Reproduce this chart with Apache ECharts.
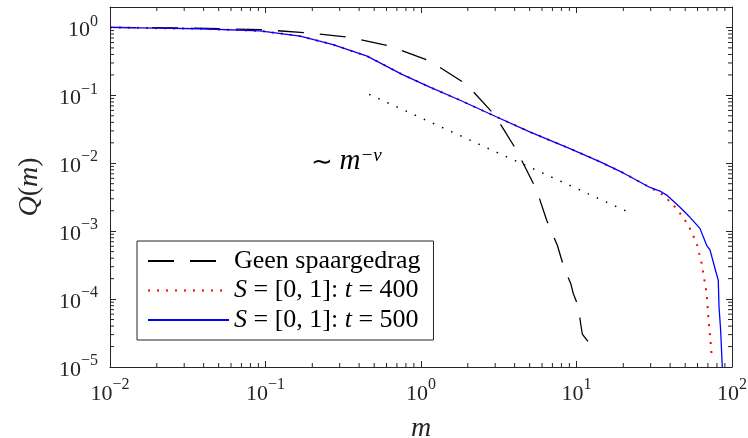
<!DOCTYPE html>
<html>
<head>
<meta charset="utf-8">
<script src="https://cdn.jsdelivr.net/npm/echarts@6/dist/echarts.min.js"></script>
<style>
html,body{margin:0;padding:0;background:#fff;}
#c{width:748px;height:438px;}
</style>
</head>
<body>
<div id="c"></div>
<script>
// ---- data ----
const mGeen = [0.01, 0.03, 0.097, 0.184, 0.349, 0.632, 1.14, 1.97, 2.99, 4.12, 5.55, 6.43, 7.53, 8.31, 9.18, 9.53, 10.3, 10.64, 10.9, 12.4];
const qGeen = [1.0, 0.985, 0.925, 0.836, 0.713, 0.531, 0.32, 0.144, 0.0508, 0.0155, 0.004, 0.00145, 0.00062, 0.00029, 0.00017, 0.000121, 0.000077, 0.000043, 0.0000306, 0.0000206];

const m400 = [0.01, 0.02, 0.038, 0.092, 0.167, 0.272, 0.45, 0.755, 1.14, 1.8, 3.07, 5.0, 9.08, 14.2, 20, 29.7, 36.2, 44.1, 52.4, 59.3, 63.8, 68.7, 70.4, 73.3, 74.3];
const q400 = [1.0, 0.975, 0.957, 0.89, 0.745, 0.557, 0.378, 0.204, 0.132, 0.084, 0.048, 0.029, 0.0164, 0.0105, 0.0072, 0.0044, 0.0034, 0.00215, 0.00123, 0.00066, 0.000335, 0.000121, 0.000055, 0.00002, 0.0000127];

const m500 = [0.01, 0.02, 0.038, 0.092, 0.167, 0.272, 0.45, 0.755, 1.14, 1.8, 3.07, 5.0, 9.08, 14.2, 20, 29.7, 34.4, 38.0, 46.3, 53.7, 62.2, 68.7, 72.2, 77.8, 81.6, 82.5, 84.5, 86.6];
const q500 = [1.0, 0.975, 0.957, 0.89, 0.745, 0.557, 0.378, 0.204, 0.132, 0.084, 0.048, 0.029, 0.0164, 0.0105, 0.0072, 0.0044, 0.0039, 0.0034, 0.00225, 0.0016, 0.0011, 0.00062, 0.00053, 0.00028, 0.00019, 0.000077, 0.000035, 0.00001];

const mRef = [0.464, 23.1];
const qRef = [0.1035, 0.00178];

const seriesNames = ['Geen spaargedrag', 'S = [0, 1]: t = 400', 'S = [0, 1]: t = 500'];
const legendLabels = {
  'Geen spaargedrag': 'Geen spaargedrag',
  'S = [0, 1]: t = 400': '{i|S} = [0, 1]: {i|t} = 400',
  'S = [0, 1]: t = 500': '{i|S} = [0, 1]: {i|t} = 500'
};
const xRange = [0.01, 100];
const yRange = [1e-5, 2];

// ---- helpers ----
const zip = (a, b) => a.map((v, i) => [v, b[i]]);
const FONT = 'Liberation Serif';
const TXT = '#262626';
function powLabel(v) {
  const l = Math.log10(v), n = Math.round(l);
  if (Math.abs(l - n) > 1e-6) return '';
  return '{b|10}{s|' + (n < 0 ? '\u2212' + (-n) : n) + '}';
}
const labelRich = {
  b: {fontFamily: FONT, fontSize: 22, color: TXT, lineHeight: 28, verticalAlign: 'bottom'},
  s: {fontFamily: FONT, fontSize: 16, color: TXT, lineHeight: 28, verticalAlign: 'top'}
};
function minorTicks(lo, hi) {
  const out = [];
  for (let e = Math.floor(Math.log10(lo)); e <= Math.ceil(Math.log10(hi)); e++) {
    for (let k = 2; k <= 9; k++) {
      const v = k * Math.pow(10, e);
      if (v > lo && v < hi) out.push(v);
    }
  }
  return out;
}
const xMinor = minorTicks(xRange[0], xRange[1]);
const yMinor = minorTicks(yRange[0], yRange[1]);

const axisCommon = {
  type: 'log', logBase: 10,
  axisLine: {show: true, onZero: false, lineStyle: {color: TXT, width: 1}},
  axisTick: {show: true, inside: true, length: 6, lineStyle: {color: TXT, width: 1}},
  splitLine: {show: false},
  minorTick: {show: false}
};

const chart = echarts.init(document.getElementById('c'), null, {renderer: 'canvas'});
chart.setOption({
  animation: false,
  backgroundColor: '#fff',
  grid: {left: 110, right: 16, top: 7, bottom: 71, containLabel: false, outerBoundsMode: 'none'},
  xAxis: [
    Object.assign({}, axisCommon, {
      position: 'bottom', min: xRange[0], max: xRange[1],
      name: '{i|m}', nameLocation: 'middle', nameGap: 48,
      nameTextStyle: {rich: {i: {fontFamily: FONT, fontStyle: 'italic', fontSize: 28, color: TXT}}},
      axisLabel: {margin: 10, formatter: powLabel, rich: labelRich}
    }),
    Object.assign({}, axisCommon, {
      position: 'top', min: xRange[0], max: xRange[1], axisLabel: {show: false}
    })
  ],
  yAxis: [
    Object.assign({}, axisCommon, {
      position: 'left', min: yRange[0], max: yRange[1],
      name: '{i|Q}({i|m})', nameLocation: 'middle', nameGap: 66, nameRotate: 90,
      nameTextStyle: {fontFamily: FONT, fontSize: 28, color: TXT,
        rich: {i: {fontFamily: FONT, fontStyle: 'italic', fontSize: 28, color: TXT}}},
      axisLabel: {margin: 12, formatter: powLabel, rich: labelRich, showMaxLabel: false}
    }),
    Object.assign({}, axisCommon, {
      position: 'right', min: yRange[0], max: yRange[1], axisLabel: {show: false}
    })
  ],
  legend: {
    data: seriesNames,
    orient: 'vertical', left: 137, top: 241,
    backgroundColor: '#fff', borderColor: TXT, borderWidth: 1,
    padding: [7, 13, 7, 10],
    itemWidth: 81, itemHeight: 14, itemGap: 3.5,
    itemStyle: {color: 'rgba(0,0,0,0)', borderWidth: 0, opacity: 0},
    formatter: n => legendLabels[n],
    textStyle: {fontFamily: FONT, fontSize: 26, color: '#000', lineHeight: 26,
      rich: {i: {fontFamily: FONT, fontStyle: 'italic', fontSize: 26, color: '#000', lineHeight: 26}}}
  },
  graphic: [{
    type: 'text', left: 311, top: 146, silent: true,
    style: {
      text: '{t|\u223C }{m|m}{s|\u2212\u03BD}',
      rich: {
        t: {fontFamily: FONT, fontSize: 26, fill: '#000', lineHeight: 30, verticalAlign: 'bottom'},
        m: {fontFamily: FONT, fontStyle: 'italic', fontSize: 29, fill: '#000', lineHeight: 30, verticalAlign: 'bottom'},
        s: {fontFamily: FONT, fontStyle: 'italic', fontSize: 19, fill: '#000', lineHeight: 30, verticalAlign: 'top'}
      }
    }
  }],
  series: [
    {
      name: seriesNames[0], type: 'line', data: zip(mGeen, qGeen), showSymbol: false, symbol: 'none',
      lineStyle: {color: '#000', width: 1.3, type: [26, 16]}, itemStyle: {color: '#000'}, z: 3
    },
    {
      name: seriesNames[1], type: 'line', data: zip(m400, q400), showSymbol: false, symbol: 'none',
      lineStyle: {color: '#ff0000', width: 2, type: [2, 7]}, itemStyle: {color: '#ff0000'}, z: 3
    },
    {
      name: seriesNames[2], type: 'line', data: zip(m500, q500), showSymbol: false, symbol: 'none',
      lineStyle: {color: '#0000ff', width: 1.3, type: 'solid'}, itemStyle: {color: '#0000ff'}, z: 4
    },
    {
      name: 'ref', type: 'line', data: zip(mRef, qRef), showSymbol: false, symbol: 'none',
      lineStyle: {color: '#000', width: 1.5, type: [1.5, 8.5]}, z: 3
    },
    {
      name: 'xminor', type: 'custom', silent: true, clip: false, z: 2,
      data: xMinor.map(v => [v]),
      encode: {x: 0},
      renderItem: (params, api) => {
        const v = api.value(0);
        const b = api.coord([v, yRange[0]]);
        const t = api.coord([v, yRange[1]]);
        const st = {stroke: TXT, lineWidth: 1};
        return {type: 'group', children: [
          {type: 'line', shape: {x1: b[0], y1: b[1], x2: b[0], y2: b[1] - 4}, style: st},
          {type: 'line', shape: {x1: t[0], y1: t[1], x2: t[0], y2: t[1] + 4}, style: st}
        ]};
      }
    },
    {
      name: 'yminor', type: 'custom', silent: true, clip: false, z: 2,
      data: yMinor.map(v => [xRange[0], v]),
      encode: {x: 0, y: 1},
      renderItem: (params, api) => {
        const v = api.value(1);
        const l = api.coord([xRange[0], v]);
        const r = api.coord([xRange[1], v]);
        const st = {stroke: TXT, lineWidth: 1};
        return {type: 'group', children: [
          {type: 'line', shape: {x1: l[0], y1: l[1], x2: l[0] + 4, y2: l[1]}, style: st},
          {type: 'line', shape: {x1: r[0], y1: r[1], x2: r[0] - 4, y2: r[1]}, style: st}
        ]};
      }
    }
  ]
});
</script>
</body>
</html>
